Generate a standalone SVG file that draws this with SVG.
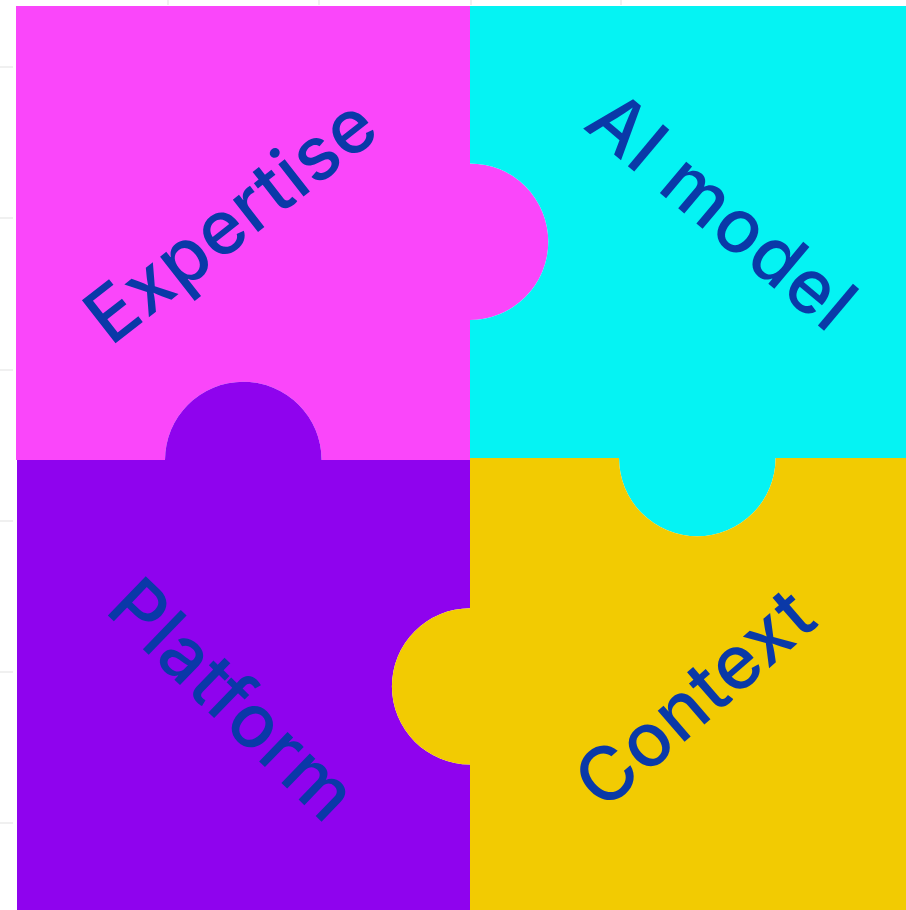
<svg xmlns="http://www.w3.org/2000/svg" width="906" height="910" viewBox="0 0 906 910">
<style>
.lbl{font-family:Inter,"Noto Sans","Liberation Sans",sans-serif;font-size:75px;font-weight:500;letter-spacing:1px;fill:#0a39a8;text-anchor:middle;dominant-baseline:central}
.grid{stroke:#f0f0f0;stroke-width:2}
</style>
<rect width="906" height="910" fill="#ffffff"/>
<g id="grid">
<line class="grid" x1="0" y1="67" x2="13" y2="67"/>
<line class="grid" x1="0" y1="218" x2="13" y2="218"/>
<line class="grid" x1="0" y1="370" x2="13" y2="370"/>
<line class="grid" x1="0" y1="521" x2="13" y2="521"/>
<line class="grid" x1="0" y1="672" x2="13" y2="672"/>
<line class="grid" x1="0" y1="823" x2="13" y2="823"/>
<line class="grid" x1="168" y1="0" x2="168" y2="5"/>
<line class="grid" x1="319" y1="0" x2="319" y2="5"/>
<line class="grid" x1="471" y1="0" x2="471" y2="5"/>
<line class="grid" x1="621" y1="0" x2="621" y2="5"/>
</g>
<g id="expertise">
<path fill="#fa46fa" d="M16,6 H470 V163.4 A78.3 78.3 0 0 1 470,320 V460 H321.6 A78.3 78.3 0 0 0 165,460 H16 Z"/>
<text class="lbl" transform="translate(230,219) rotate(-38)">Expertise</text>
</g>
<g id="ai-model">
<path fill="#05f3f3" d="M470,6 H906 V458 H775.6 A78.3 78.3 0 0 1 619,458 H470 V320 A78.3 78.3 0 0 0 470,163.4 Z"/>
<text class="lbl" transform="translate(723,210) rotate(40)">AI model</text>
</g>
<g id="platform">
<path fill="#8f03ee" d="M17,460 H165 A78.3 78.3 0 0 1 321.6,460 H470 V608.3 A78.1 78.1 0 0 0 470,764.5 V910 H17 Z"/>
<text class="lbl" transform="translate(234,699) rotate(44)">Platform</text>
</g>
<g id="context">
<path fill="#f2cb02" d="M470,458 H619 A78.3 78.3 0 0 0 775.6,458 H906 V910 H470 V764.5 A78.1 78.1 0 0 1 470,608.3 Z"/>
<text class="lbl" transform="translate(694,697) rotate(-41)">Context</text>
</g>
<g id="connectors"/>
</svg>
